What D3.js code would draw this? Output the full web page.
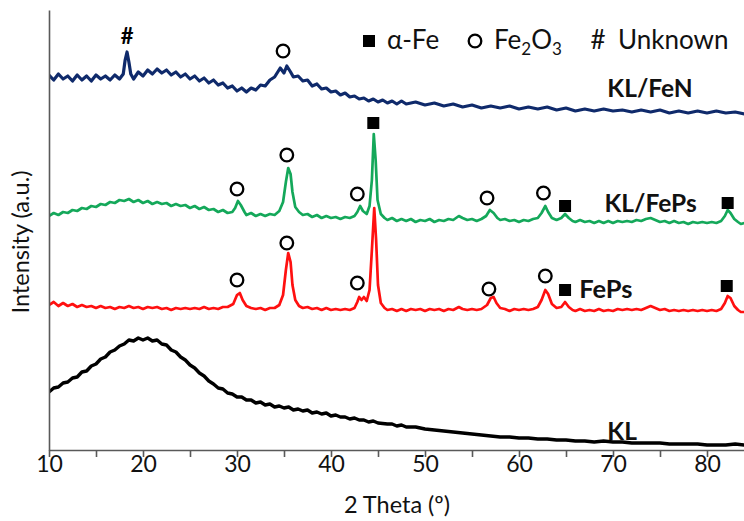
<!DOCTYPE html>
<html><head><meta charset="utf-8">
<script src="https://cdn.jsdelivr.net/npm/d3@7"></script>
<style>body{margin:0;background:#fff}svg{display:block}</style>
</head><body>
<svg id="chart" width="744" height="521"></svg>
<script>
// ---- DATA (2 Theta in degrees, intensity in arbitrary units, curves already stacked) ----
const klFeN = [[10,375],[10.5,370],[11,376],[11.5,371],[12,374],[12.5,369],[13,375],[13.5,370],[14,374],[14.5,369],[15,375],[15.5,371],[16,374],[16.5,370],[17,375],[17.5,371],[17.9,376],[18.1,390],[18.3,398],[18.5,388],[18.7,376],[19,371],[19.5,378],[20,374],[20.5,380],[21,376],[21.5,381],[22,377],[22.5,380],[23,375],[23.5,378],[24,373],[24.5,376],[25,371],[25.5,374],[26,369],[26.5,372],[27,367],[27.5,370],[28,365],[28.5,367],[29,362],[29.5,364],[30,359],[30.5,362],[31,358],[31.5,362],[32,360],[32.5,365],[33,364],[33.5,370],[34,373],[34.6,382],[35,377],[35.3,384],[35.7,378],[36,373],[36.5,374],[37,369],[37.5,370],[38,364],[38.5,366],[39,361],[39.5,362],[40,358],[40.5,359],[41,355],[41.5,357],[42,353],[42.5,354],[43,351],[43.5,352],[44,349],[44.5,351],[45,348],[45.5,350],[46,347],[46.5,349],[47,346],[47.5,349],[48,346],[49,348],[50,345],[51,347],[52,344],[53,346],[54,343],[55,345],[56,342],[57,344],[58,342],[59,344],[60,341],[61,343],[62,341],[63,343],[64,340],[65,342],[66,339],[67,341],[68,339],[69,341],[70,339],[71,340],[72,338],[73,340],[74,338],[75,340],[76,337],[77,339],[78,337],[79,339],[80,337],[81,339],[82,337],[83,338],[84,336]];

const klFePs = [[10,234],[10.5,237],[11,235],[11.5,238],[12,237],[12.5,240],[13,239],[13.5,242],[14,241],[14.5,244],[15,243],[15.5,246],[16,245],[16.5,248],[17,247],[17.5,250],[18,249],[18.5,251],[19,248],[19.5,250],[20,247],[20.5,249],[21,246],[21.5,248],[22,246],[22.5,247],[23,244],[23.5,246],[24,244],[24.5,245],[25,242],[25.5,244],[26,241],[26.5,243],[27,240],[27.5,241],[28,238],[28.5,240],[29,237],[29.5,238],[29.8,242],[30.1,249],[30.4,245],[30.8,238],[31,235],[31.5,237],[32,234],[32.5,236],[33,234],[33.5,236],[34,235],[34.5,239],[34.9,248],[35.2,268],[35.45,282],[35.7,276],[35.9,258],[36.2,243],[36.6,238],[37,235],[37.5,236],[38,233],[38.5,235],[39,232],[39.5,234],[40,232],[40.5,233],[41,231],[41.5,233],[42,232],[42.5,234],[42.8,238],[43.1,244],[43.4,239],[43.8,236],[44.1,244],[44.35,270],[44.55,316],[44.75,290],[44.95,250],[45.3,236],[45.7,232],[46,230],[46.5,232],[47,229],[47.5,231],[48,229],[48.5,231],[49,228],[49.5,230],[50,229],[50.5,231],[51,228],[51.5,230],[52,229],[52.5,231],[53,230],[53.6,234],[54,232],[54.5,230],[55,231],[55.5,229],[56,231],[56.5,234],[56.9,240],[57.3,237],[57.7,232],[58,230],[58.5,231],[59,229],[59.5,230],[60,228],[60.5,230],[61,229],[61.5,231],[62,232],[62.4,237],[62.8,244],[63.1,238],[63.5,232],[64,230],[64.5,232],[64.9,236],[65.3,232],[65.7,229],[66,228],[66.5,230],[67,228],[67.5,229],[68,227],[68.5,229],[69,227],[69.5,229],[70,227],[70.5,229],[71,228],[71.5,229],[72,228],[72.5,230],[73,229],[73.5,231],[74,232],[74.5,230],[75,228],[75.5,229],[76,227],[76.5,229],[77,227],[77.5,228],[78,226],[78.5,228],[79,227],[79.5,228],[80,227],[80.5,228],[81,227],[81.5,229],[81.9,234],[82.2,240],[82.5,237],[82.9,231],[83.3,228],[83.6,226],[84,227]];

const fePs = [[10,145],[10.5,148],[11,144],[11.5,147],[12,144],[12.5,146],[13,143],[13.5,145],[14,143],[14.5,144],[15,142],[15.5,144],[16,142],[16.5,143],[17,141],[17.5,143],[18,142],[18.5,144],[19,142],[19.5,143],[20,141],[20.5,143],[21,142],[21.5,143],[22,141],[22.5,142],[23,140],[23.5,142],[24,141],[24.5,142],[25,141],[25.5,142],[26,141],[26.5,143],[27,141],[27.5,142],[28,141],[28.5,143],[29,143],[29.6,146],[30,155],[30.3,157],[30.6,150],[31,144],[31.5,142],[32,141],[32.5,142],[33,140],[33.5,142],[34,142],[34.5,145],[34.9,155],[35.2,180],[35.45,197],[35.7,188],[35.9,165],[36.2,150],[36.6,144],[37,142],[37.5,143],[38,141],[38.5,142],[39,140],[39.5,142],[40,140],[40.5,141],[41,140],[41.5,141],[42,140],[42.5,142],[42.8,148],[43,153],[43.25,150],[43.5,153],[43.8,149],[44.1,160],[44.35,200],[44.6,242],[44.8,210],[45,165],[45.3,147],[45.7,142],[46,140],[46.5,141],[47,139],[47.5,141],[48,139],[48.5,141],[49,140],[49.5,141],[50,139],[50.5,141],[51,140],[51.5,141],[52,139],[52.5,141],[53,140],[53.6,143],[54,141],[54.5,140],[55,141],[55.5,140],[56,141],[56.6,145],[57,152],[57.3,153],[57.6,147],[58,142],[58.5,141],[59,139],[59.5,141],[60,140],[60.5,141],[61,140],[61.5,141],[62,143],[62.4,150],[62.8,160],[63.1,156],[63.5,146],[64,142],[64.5,143],[64.9,148],[65.3,143],[65.7,140],[66,139],[66.5,141],[67,139],[67.5,140],[68,139],[68.5,141],[69,139],[69.5,140],[70,139],[70.5,141],[71,140],[71.5,141],[72,140],[72.5,141],[73,140],[73.5,142],[74,144],[74.5,142],[75,140],[75.5,141],[76,139],[76.5,140],[77,139],[77.5,140],[78,139],[78.5,140],[79,139],[79.5,140],[80,139],[80.5,140],[81,139],[81.5,141],[81.9,147],[82.2,154],[82.5,152],[82.9,144],[83.3,140],[83.6,138],[84,138]];

const kl = [[10,58],[10.5,62],[11,63],[11.5,67],[12,68],[12.5,72],[13,73],[13.5,78],[14,79],[14.5,84],[15,86],[15.5,91],[16,93],[16.5,98],[17,100],[17.5,104],[18,106],[18.5,110],[19,109],[19.5,112],[20,110],[20.5,112],[21,109],[21.5,110],[22,106],[22.5,105],[23,100],[23.5,98],[24,93],[24.5,90],[25,85],[25.5,82],[26,77],[26.5,74],[27,69],[27.5,66],[28,62],[28.5,61],[29,57],[29.5,56],[30,53],[30.5,53],[31,50],[31.5,50],[32,47],[32.5,48],[33,45],[33.5,46],[34,43],[34.5,44],[35,42],[35.5,43],[36,40],[36.5,41],[37,39],[37.5,40],[38,37],[38.5,38],[39,36],[39.5,37],[40,34],[40.5,35],[41,33],[41.5,33],[42,31],[42.5,32],[43,30],[43.5,30],[44,28],[44.5,29],[45,27],[46,26],[46.5,26],[47,24],[47.5,25],[48,23],[49,23],[50,21],[51,20],[52,19],[53,18],[54,17],[55,16],[56,15],[57,14],[58,13],[59,13],[60,12],[61,12],[62,11],[63,11],[64,10],[65,10],[66,9],[67,9],[68,8],[69,9],[70,8],[71,8],[72,7],[73,7],[74,7],[75,7],[76,6],[77,6],[78,6],[79,6],[80,5],[81,5],[82,5],[83,6],[84,5]];

const seriesNames  = ["KL/FeN", "KL/FePs", "FePs", "KL"];
const seriesData   = [klFeN, klFePs, fePs, kl];
const seriesColors = ["#0f2a6b", "#14a85a", "#ff1010", "#000000"];
// label anchor of each curve name [2 Theta, intensity]
const seriesLabelPos = [[69.4, 362], [69.1, 247], [66.4, 161], [69.4, 19]];

// phase markers: [type, 2 Theta, intensity]
const markers = [
  ["hash", 18.3, 414], ["circle", 34.9, 399],
  ["circle", 30.0, 261], ["circle", 35.3, 295], ["circle", 42.8, 256], ["square", 44.5, 327],
  ["circle", 56.6, 252], ["circle", 62.6, 257], ["square", 64.9, 244], ["square", 82.2, 247],
  ["circle", 30.0, 170], ["circle", 35.3, 207], ["circle", 42.8, 167],
  ["circle", 56.8, 161], ["circle", 62.8, 174], ["square", 64.9, 160], ["square", 82.1, 164]
];

const majorTicks = [10, 20, 30, 40, 50, 60, 70, 80];
const minorTicks = [15, 25, 35, 45, 55, 65, 75];
const legendItems = [["square", "α-Fe"], ["circle", "Fe2O3"], ["hash", "Unknown"]];
const xTitle = "2 Theta (º)";
const yTitle = "Intensity (a.u.)";

// ---- DRAW ----
const svg = d3.select("#chart");
const font = "Lato, 'Open Sans', sans-serif";
const x = d3.scaleLinear().domain([10, 10 + 695 / 9.4]).range([49, 744]);
const y = d3.scaleLinear().domain([0, 440]).range([450, 10]);

svg.append("defs").append("clipPath").attr("id", "clip")
  .append("rect").attr("x", 50).attr("y", 0).attr("width", 694).attr("height", 449);

const line = d3.line().x(d => x(d[0])).y(d => y(d[1]));
const gLines = svg.append("g").attr("clip-path", "url(#clip)");
const widths = [3.2, 2.7, 2.7, 3.4];
seriesData.forEach((s, i) => {
  gLines.append("path").datum(s).attr("d", line)
    .attr("fill", "none").attr("stroke", seriesColors[i])
    .attr("stroke-width", widths[i]).attr("stroke-linejoin", "round");
});

// axes
const axisColor = "#595959";
const gx = svg.append("g").attr("transform", `translate(0,${y(0)})`)
  .call(d3.axisBottom(x).tickValues(majorTicks).tickSize(7).tickSizeOuter(0).tickPadding(-1).tickFormat(d3.format("d")));
const gxm = svg.append("g").attr("transform", `translate(0,${y(0)})`)
  .call(d3.axisBottom(x).tickValues(minorTicks).tickSize(7).tickSizeOuter(0).tickFormat(""));
gxm.select(".domain").remove();
const gy = svg.append("g").attr("transform", `translate(${x(10)},0)`)
  .call(d3.axisLeft(y).tickValues([]).tickSizeOuter(0));
svg.selectAll(".domain, .tick line").attr("stroke", axisColor).attr("stroke-width", 1.6);
gx.selectAll(".tick text").attr("font-family", font).attr("font-size", 23).attr("fill", "#111");

svg.append("text").attr("x", 397).attr("y", 513).attr("text-anchor", "middle")
  .attr("font-family", font).attr("font-size", 23.5).attr("fill", "#111").text(xTitle);
svg.append("text").attr("transform", "translate(29,242) rotate(-90)").attr("text-anchor", "middle")
  .attr("font-family", font).attr("font-size", 23.5).attr("fill", "#111").text(yTitle);

// series labels
seriesNames.forEach((n, i) => {
  svg.append("text").attr("x", x(seriesLabelPos[i][0])).attr("y", y(seriesLabelPos[i][1]))
    .attr("dy", "0.36em").attr("font-family", font).attr("font-weight", 700)
    .attr("font-size", i === 2 ? 25.5 : 24.5).attr("fill", "#111").text(n);
});

// markers
function drawMarker(g, type, cx, cy) {
  if (type === "circle") {
    g.append("circle").attr("cx", cx).attr("cy", cy).attr("r", 6.3)
      .attr("fill", "#fff").attr("stroke", "#000").attr("stroke-width", 2.3);
  } else if (type === "square") {
    g.append("rect").attr("x", cx - 6).attr("y", cy - 6).attr("width", 12).attr("height", 12).attr("fill", "#000");
  } else {
    g.append("text").attr("x", cx).attr("y", cy).attr("dy", "0.36em").attr("text-anchor", "middle")
      .attr("font-family", font).attr("font-weight", 700).attr("font-size", 22).attr("fill", "#000").text("#");
  }
}
const gm = svg.append("g");
markers.forEach(m => drawMarker(gm, m[0], x(m[1]), y(m[2])));

// legend
const legendX = [369, 475, 598];
const legendTextX = [387, 494, 618];
const gl = svg.append("g");
legendItems.forEach((it, i) => {
  if (it[0] === "hash") {
    gl.append("text").attr("x", legendX[i]).attr("y", 49).attr("text-anchor", "middle")
      .attr("font-family", font).attr("font-size", 26).attr("fill", "#111").text("#");
  } else {
    drawMarker(gl, it[0], legendX[i], 41);
  }
  const t = gl.append("text").attr("x", legendTextX[i]).attr("y", 49)
    .attr("font-family", font).attr("font-size", 26).attr("fill", "#111");
  if (it[1] === "Fe2O3") {
    t.append("tspan").text("Fe");
    t.append("tspan").attr("font-size", 17).attr("dy", 6).text("2");
    t.append("tspan").attr("dy", -6).text("O");
    t.append("tspan").attr("font-size", 17).attr("dy", 6).text("3");
  } else {
    t.text(it[1]);
  }
});
</script>
</body></html>
